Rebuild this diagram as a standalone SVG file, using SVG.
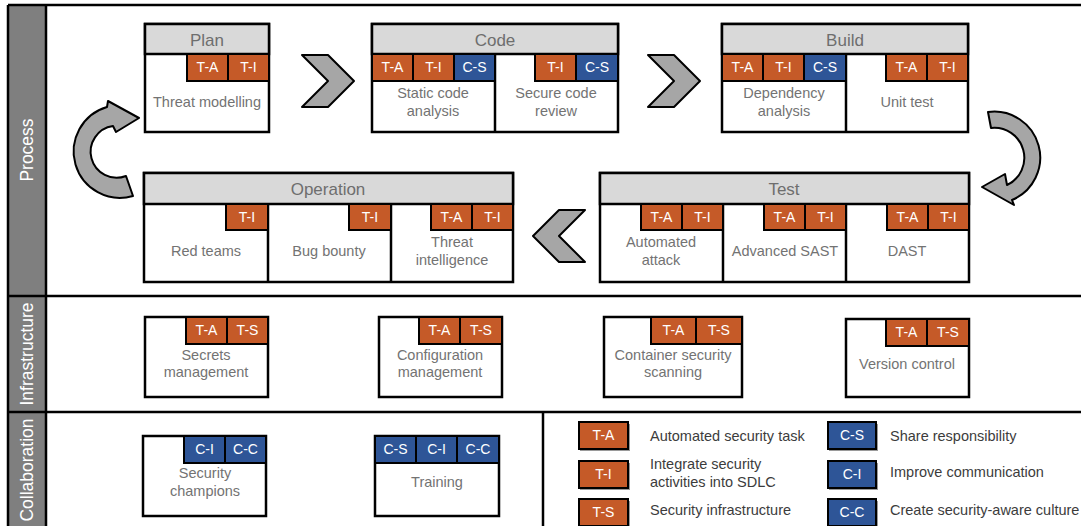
<svg xmlns="http://www.w3.org/2000/svg" width="1081" height="526" viewBox="0 0 1081 526">
<style>
text{font-family:"Liberation Sans",Arial,sans-serif}
.box{fill:#fff;stroke:#000;stroke-width:2.5}
.hdr{fill:#d9d9d9;stroke:#000;stroke-width:2.5}
.div{stroke:#000;stroke-width:2.5}
.o{fill:#c55a28;stroke:#000;stroke-width:2}
.b{fill:#2e5597;stroke:#000;stroke-width:2}
.bt{fill:#fff;font-size:14px;text-anchor:middle}
.ht{fill:#6e6e6e;font-size:17px;text-anchor:middle}
.nt{fill:#737373;font-size:14.5px;text-anchor:middle}
.lt{fill:#3c3c3c;font-size:14.5px}
.band{fill:#7f7f7f}
.bl{fill:#fff;font-size:17.5px;text-anchor:middle}
.frame{stroke:#000;stroke-width:2.5;fill:none}
.arr{fill:#a6a6a6;stroke:#000;stroke-width:2;stroke-linejoin:round}
.sh{fill:#9a9a9a}
</style>

<g id="frame">
<rect class="band" x="8" y="5" width="38" height="530"/>
<line class="frame" x1="8" y1="5" x2="1090" y2="5"/>
<line class="frame" x1="8" y1="5" x2="8" y2="530"/>
<line class="frame" x1="46" y1="5" x2="46" y2="530"/>
<line class="frame" x1="8" y1="296" x2="1090" y2="296"/>
<line class="frame" x1="8" y1="412" x2="1090" y2="412"/>
<line class="frame" x1="543" y1="412" x2="543" y2="530"/>
<text class="bl" transform="translate(33,150) rotate(-90)">Process</text>
<text class="bl" transform="translate(33,354) rotate(-90)">Infrastructure</text>
<text class="bl" transform="translate(33,470) rotate(-90)">Collaboration</text>
</g>

<g id="connectors">
<polygon class="arr" points="302,55 328,55 354,81 328,107 302,107 328,81"/>
<polygon class="arr" points="648,55 674,55 700,81 674,107 648,107 674,81"/>
<polygon class="arr" points="585,210 559,210 533,236 559,262 585,262 559,236"/>
<path class="arr" d="M133,196 A46,46 0 1 1 107,107 L108,101 L139,118 L116,132 L113,126 A26,26 0 1 0 126,176 Z"/>
<path class="arr" d="M988,112 A46,46 0 0 1 1012,200 L1014,205 L982,187 L1005,174 L1007,185 A30,30 0 0 0 991,128 Z"/>
</g>

<g id="plan">
<rect class="box" x="145" y="24" width="124" height="108"/>
<rect class="hdr" x="145" y="24" width="124" height="30"/>
<text class="ht" x="207" y="46">Plan</text>
<rect class="o" x="187" y="54" width="41" height="27"/><text class="bt" x="207.5" y="72">T-A</text>
<rect class="o" x="228" y="54" width="41" height="27"/><text class="bt" x="248.5" y="72">T-I</text>
<text class="nt" x="207" y="107">Threat modelling</text>
</g>

<g id="code">
<rect class="box" x="372" y="24" width="246" height="108"/>
<rect class="hdr" x="372" y="24" width="246" height="30"/>
<line class="div" x1="495" y1="54" x2="495" y2="132"/>
<text class="ht" x="495" y="46">Code</text>
<rect class="o" x="372" y="54" width="41" height="27"/><text class="bt" x="392.5" y="72">T-A</text>
<rect class="o" x="413" y="54" width="41" height="27"/><text class="bt" x="433.5" y="72">T-I</text>
<rect class="b" x="454" y="54" width="41" height="27"/><text class="bt" x="474.5" y="72">C-S</text>
<rect class="o" x="535" y="54" width="41" height="27"/><text class="bt" x="555.5" y="72">T-I</text>
<rect class="b" x="576" y="54" width="42" height="27"/><text class="bt" x="597" y="72">C-S</text>
<text class="nt" x="433" y="98">Static code</text>
<text class="nt" x="433" y="116">analysis</text>
<text class="nt" x="556" y="98">Secure code</text>
<text class="nt" x="556" y="116">review</text>
</g>

<g id="build">
<rect class="box" x="722" y="24" width="246" height="108"/>
<rect class="hdr" x="722" y="24" width="246" height="30"/>
<line class="div" x1="846" y1="54" x2="846" y2="132"/>
<text class="ht" x="845" y="46">Build</text>
<rect class="o" x="722" y="54" width="41" height="27"/><text class="bt" x="742.5" y="72">T-A</text>
<rect class="o" x="763" y="54" width="41" height="27"/><text class="bt" x="783.5" y="72">T-I</text>
<rect class="b" x="804" y="54" width="42" height="27"/><text class="bt" x="825" y="72">C-S</text>
<rect class="o" x="886" y="54" width="41" height="27"/><text class="bt" x="906.5" y="72">T-A</text>
<rect class="o" x="927" y="54" width="41" height="27"/><text class="bt" x="947.5" y="72">T-I</text>
<text class="nt" x="784" y="98">Dependency</text>
<text class="nt" x="784" y="116">analysis</text>
<text class="nt" x="907" y="107">Unit test</text>
</g>

<g id="operation">
<rect class="box" x="144" y="173" width="369" height="109"/>
<rect class="hdr" x="144" y="173" width="369" height="31"/>
<line class="div" x1="268" y1="204" x2="268" y2="282"/>
<line class="div" x1="391" y1="204" x2="391" y2="282"/>
<text class="ht" x="328" y="195">Operation</text>
<rect class="o" x="226" y="204" width="42" height="26"/><text class="bt" x="247" y="222">T-I</text>
<rect class="o" x="349" y="204" width="42" height="26"/><text class="bt" x="370" y="222">T-I</text>
<rect class="o" x="431" y="204" width="41" height="26"/><text class="bt" x="451.5" y="222">T-A</text>
<rect class="o" x="472" y="204" width="41" height="26"/><text class="bt" x="492.5" y="222">T-I</text>
<text class="nt" x="206" y="256">Red teams</text>
<text class="nt" x="329" y="256">Bug bounty</text>
<text class="nt" x="452" y="247">Threat</text>
<text class="nt" x="452" y="265">intelligence</text>
</g>

<g id="test">
<rect class="box" x="600" y="173" width="369" height="109"/>
<rect class="hdr" x="600" y="173" width="369" height="31"/>
<line class="div" x1="723" y1="204" x2="723" y2="282"/>
<line class="div" x1="846" y1="204" x2="846" y2="282"/>
<text class="ht" x="784" y="195">Test</text>
<rect class="o" x="641" y="204" width="41" height="26"/><text class="bt" x="661.5" y="222">T-A</text>
<rect class="o" x="682" y="204" width="41" height="26"/><text class="bt" x="702.5" y="222">T-I</text>
<rect class="o" x="764" y="204" width="41" height="26"/><text class="bt" x="784.5" y="222">T-A</text>
<rect class="o" x="805" y="204" width="41" height="26"/><text class="bt" x="825.5" y="222">T-I</text>
<rect class="o" x="887" y="204" width="41" height="26"/><text class="bt" x="907.5" y="222">T-A</text>
<rect class="o" x="928" y="204" width="41" height="26"/><text class="bt" x="948.5" y="222">T-I</text>
<text class="nt" x="661" y="247">Automated</text>
<text class="nt" x="661" y="265">attack</text>
<text class="nt" x="785" y="256">Advanced SAST</text>
<text class="nt" x="907" y="256">DAST</text>
</g>

<g id="secrets">
<rect class="box" x="145" y="317" width="123" height="80"/>
<rect class="o" x="186" y="317" width="41" height="27"/><text class="bt" x="206.5" y="335">T-A</text>
<rect class="o" x="227" y="317" width="41" height="27"/><text class="bt" x="247.5" y="335">T-S</text>
<text class="nt" x="206" y="360">Secrets</text>
<text class="nt" x="206" y="377">management</text>
</g>

<g id="configuration">
<rect class="box" x="379" y="317" width="123" height="80"/>
<rect class="o" x="419" y="317" width="41" height="27"/><text class="bt" x="439.5" y="335">T-A</text>
<rect class="o" x="460" y="317" width="42" height="27"/><text class="bt" x="481" y="335">T-S</text>
<text class="nt" x="440" y="360">Configuration</text>
<text class="nt" x="440" y="377">management</text>
</g>

<g id="container">
<rect class="box" x="604" y="317" width="138" height="80"/>
<rect class="o" x="651" y="317" width="45" height="27"/><text class="bt" x="673.5" y="335">T-A</text>
<rect class="o" x="696" y="317" width="46" height="27"/><text class="bt" x="719" y="335">T-S</text>
<text class="nt" x="673" y="360">Container security</text>
<text class="nt" x="673" y="377">scanning</text>
</g>

<g id="version">
<rect class="box" x="846" y="319" width="123" height="78"/>
<rect class="o" x="886" y="319" width="41" height="27"/><text class="bt" x="906.5" y="337">T-A</text>
<rect class="o" x="927" y="319" width="42" height="27"/><text class="bt" x="948" y="337">T-S</text>
<text class="nt" x="907" y="369">Version control</text>
</g>

<g id="champions">
<rect class="box" x="143" y="436" width="123" height="80"/>
<rect class="b" x="184" y="436" width="41" height="27"/><text class="bt" x="204.5" y="454">C-I</text>
<rect class="b" x="225" y="436" width="41" height="27"/><text class="bt" x="245.5" y="454">C-C</text>
<text class="nt" x="205" y="478">Security</text>
<text class="nt" x="205" y="496">champions</text>
</g>

<g id="training">
<rect class="box" x="375" y="436" width="124" height="80"/>
<rect class="b" x="375" y="436" width="41" height="27"/><text class="bt" x="395.5" y="454">C-S</text>
<rect class="b" x="416" y="436" width="41" height="27"/><text class="bt" x="436.5" y="454">C-I</text>
<rect class="b" x="457" y="436" width="42" height="27"/><text class="bt" x="478" y="454">C-C</text>
<text class="nt" x="437" y="487">Training</text>
</g>

<g id="legend">
<rect class="sh" x="580" y="424" width="50" height="27"/>
<rect class="o" x="579" y="422" width="49" height="27"/><text class="bt" x="603.5" y="440">T-A</text>
<rect class="sh" x="580" y="463" width="50" height="27"/>
<rect class="o" x="579" y="461" width="49" height="27"/><text class="bt" x="603.5" y="479">T-I</text>
<rect class="sh" x="580" y="501" width="50" height="27"/>
<rect class="o" x="579" y="499" width="49" height="27"/><text class="bt" x="603.5" y="517">T-S</text>
<rect class="sh" x="829" y="424" width="49" height="27"/>
<rect class="b" x="828" y="422" width="48" height="27"/><text class="bt" x="852" y="440">C-S</text>
<rect class="sh" x="829" y="463" width="49" height="27"/>
<rect class="b" x="828" y="461" width="48" height="27"/><text class="bt" x="852" y="479">C-I</text>
<rect class="sh" x="829" y="501" width="49" height="27"/>
<rect class="b" x="828" y="499" width="48" height="27"/><text class="bt" x="852" y="517">C-C</text>
<text class="lt" x="650" y="441">Automated security task</text>
<text class="lt" x="650" y="469">Integrate security</text>
<text class="lt" x="650" y="487">activities into SDLC</text>
<text class="lt" x="650" y="515">Security infrastructure</text>
<text class="lt" x="890" y="441">Share responsibility</text>
<text class="lt" x="890" y="477">Improve communication</text>
<text class="lt" x="890" y="515">Create security-aware culture</text>
</g>
</svg>
